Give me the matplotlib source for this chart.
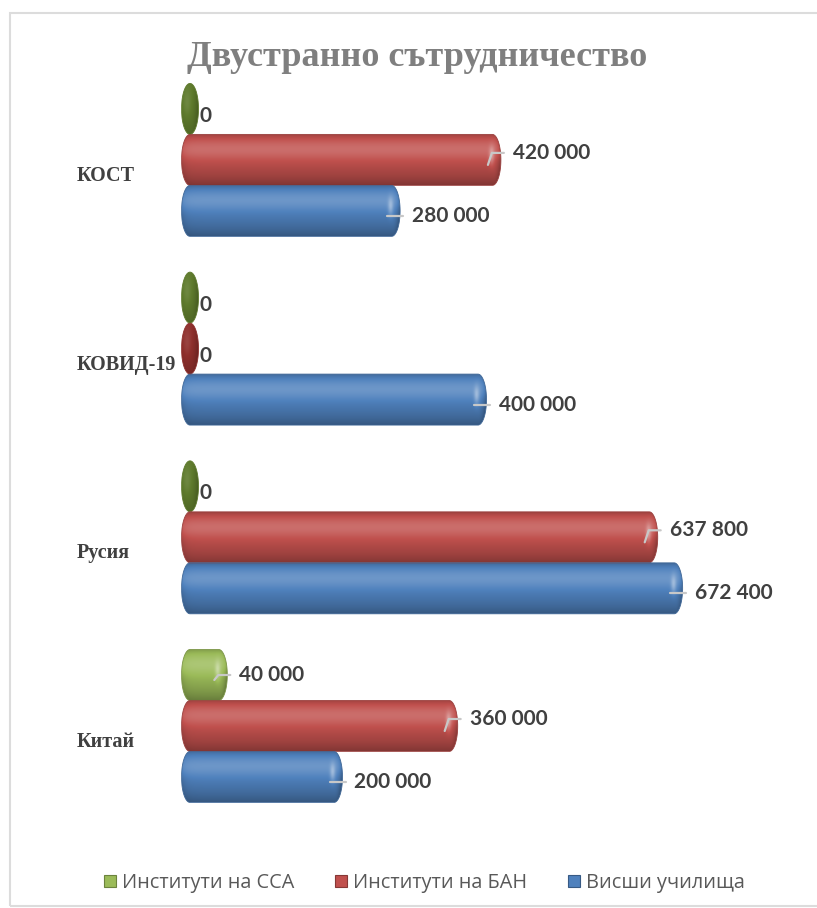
import numpy as np
import matplotlib
matplotlib.use("Agg")
import matplotlib.pyplot as plt
import matplotlib.transforms as mtransforms
from matplotlib.path import Path
from matplotlib.patches import PathPatch, Rectangle
from matplotlib.lines import Line2D

# data
categories = ["Китай", "Русия", "КОВИД-19", "КОСТ"]  # bottom -> top
series_names = ["Институти на ССА", "Институти на БАН", "Висши училища"]
ssa = [40000, 0, 0, 0]
ban = [360000, 637800, 0, 420000]
vu = [200000, 672400, 400000, 280000]

colors = ["#9BBB59", "#C0504D", "#4F81BD"]
zero_colors = ["#5E7A2C", "#8E2F2C", "#2F5A8E"]
label_dy = [0, -7, 3]  # px, per series

# layout (pixels)
W, H = 817, 908
AX_L, AX_R, AX_T, AX_B = 100, 800, 70, 830
X0_PX = 190           # where value 0 sits
PX_PER_VAL = 0.00072
Y0_PX = 726           # centre of bottom group
PX_PER_CAT = 188.7
BAR_PX = 51
CAP_PX = 8.5

fig = plt.figure(figsize=(W / 100, H / 100), dpi=100)
ax = fig.add_axes([AX_L / W, 1 - AX_B / H, (AX_R - AX_L) / W, (AX_B - AX_T) / H])
xlim = ((AX_L - X0_PX) / PX_PER_VAL, (AX_R - X0_PX) / PX_PER_VAL)
ylim = (-(AX_B - Y0_PX) / PX_PER_CAT, (Y0_PX - AX_T) / PX_PER_CAT)
dx = 1 / PX_PER_VAL      # data units per pixel (x)
dy = 1 / PX_PER_CAT      # data units per pixel (y)
bar_h = BAR_PX * dy
rx = CAP_PX * dx


def to_rgb(c):
    return np.array(matplotlib.colors.to_rgb(c))


def shade(base, k):
    base = base[None, None, :]
    k = k[:, :, None]
    dark = base * np.clip(k, 0, 1)
    light = base + (1 - base) * np.clip(k - 1, 0, 1)
    return np.where(k < 1, dark, light)


def cylinder(y, value, col, zcol):
    # outline path: body with elliptical caps
    th = np.linspace(-np.pi / 2, np.pi / 2, 40)
    right = np.column_stack([value + rx * np.cos(th), y + bar_h / 2 * np.sin(th)])
    th2 = np.linspace(np.pi / 2, 3 * np.pi / 2, 40)
    left = np.column_stack([rx * np.cos(th2), y + bar_h / 2 * np.sin(th2)])
    verts = np.vstack([right, left, right[:1]])
    path = Path(verts, closed=True)

    length_px = int(np.ceil(value * PX_PER_VAL + 2 * CAP_PX)) * 3
    nrow = BAR_PX * 3
    t = np.linspace(0, 1, nrow)[:, None]
    xs = np.linspace(0, 1, length_px)[None, :] * (value * PX_PER_VAL + 2 * CAP_PX)

    if value == 0:
        u = (xs - CAP_PX) / CAP_PX
        k = 1.0 + 0.12 * np.exp(-((u + 0.4) / 0.5) ** 2) * np.exp(-((t - 0.4) / 0.3) ** 2) \
            - 0.25 * np.clip(u, 0, 1) ** 2 - 0.15 * t ** 2
        img = shade(to_rgb(zcol), k)
        edge = zcol
    else:
        k = 1.0 + 0.18 * np.exp(-((t - 0.3) / 0.2) ** 2) - 0.32 * t ** 3 - 0.2 * (1 - t) ** 12
        k = k + 0 * xs
        xc = xs.max() - CAP_PX
        u = (xs - xc) / CAP_PX
        k = k + 0.35 * np.exp(-((u + 0.2) / 0.3) ** 2) * np.exp(-((t - 0.42) / 0.18) ** 2)
        k = k - 0.35 * np.clip(u, 0, 1) ** 2
        k = k - 0.12 * np.exp(-xs / 4)
        img = shade(to_rgb(col), k)
        edge = to_rgb(col) * 0.8

    patch = PathPatch(path, facecolor="none", edgecolor=edge, lw=0.6, zorder=3)
    ax.add_patch(patch)
    im = ax.imshow(img, extent=[-rx, value + rx, y - bar_h / 2, y + bar_h / 2],
                   origin="upper", aspect="auto", interpolation="bilinear", zorder=2)
    im.set_clip_path(patch)


def value_label(y, value, s):
    end = value + rx
    if value == 0:
        ax.text(end + 1 * dx, y - 7 * dy, "0", ha="left", va="center",
                fontsize=15, fontweight="bold", family=["Lato", "DejaVu Sans"], color="#404040")
        return
    ly = y - label_dy[s] * dy
    x1, y1 = end - 13 * dx, y - 5 * dy
    if abs(ly - y1) > 4 * dy:
        xs_ = [x1, end - 9 * dx, end + 3 * dx]
        ys_ = [y1, ly, ly]
    else:
        xs_ = [x1, end + 3 * dx]
        ys_ = [y1, y1]
        ly = y1
    ax.plot(xs_, ys_, color="#C8C8C8", lw=1.6, zorder=4, solid_capstyle="round")
    txt = f"{value:,}".replace(",", " ")
    ax.text(end + 12 * dx, ly, txt, ha="left", va="center",
            fontsize=15, fontweight="bold", family=["Lato", "DejaVu Sans"], color="#404040")


offsets = [bar_h, 0, -bar_h]
for s, vals in enumerate([ssa, ban, vu]):
    for i, v in enumerate(vals):
        cylinder(i + offsets[s], v, colors[s], zero_colors[s])
        value_label(i + offsets[s], v, s)

ax.set_xlim(*xlim)
ax.set_ylim(*ylim)
ax.axis("off")

# category labels
trans = mtransforms.blended_transform_factory(fig.transFigure, ax.transData)
trans = trans + mtransforms.ScaledTranslation(0, -16 / 100, fig.dpi_scale_trans)
for i, c in enumerate(categories):
    ax.text(77 / W, i, c, transform=trans, ha="left", va="center",
            fontsize=14.5, fontweight="bold", family="Liberation Serif", color="#404040")

fig.text(417 / W, 1 - 58 / H, "Двустранно сътрудничество", ha="center", va="center",
         fontsize=26, fontweight="bold", family="Liberation Serif", color="#7F7F7F")

handles = [Line2D([], [], marker="s", ls="", markersize=8.5, markerfacecolor=c,
                  markeredgecolor=to_rgb(c) * 0.7, markeredgewidth=0.8) for c in colors]
leg = fig.legend(handles, series_names, loc="center", bbox_to_anchor=(424 / W, 1 - 883 / H),
                 ncol=3, frameon=False, handlelength=0.7, handletextpad=0.25,
                 columnspacing=2.0, prop={"family": "Open Sans", "size": 14.3})
for t in leg.get_texts():
    t.set_color("#595959")

fig.patches.append(Rectangle((10 / W, 1 - 906 / H), 1.0, (906 - 13) / H, transform=fig.transFigure,
                             fill=False, edgecolor="#DCDCDC", lw=1.5))

fig.savefig("out.png", dpi=100)
